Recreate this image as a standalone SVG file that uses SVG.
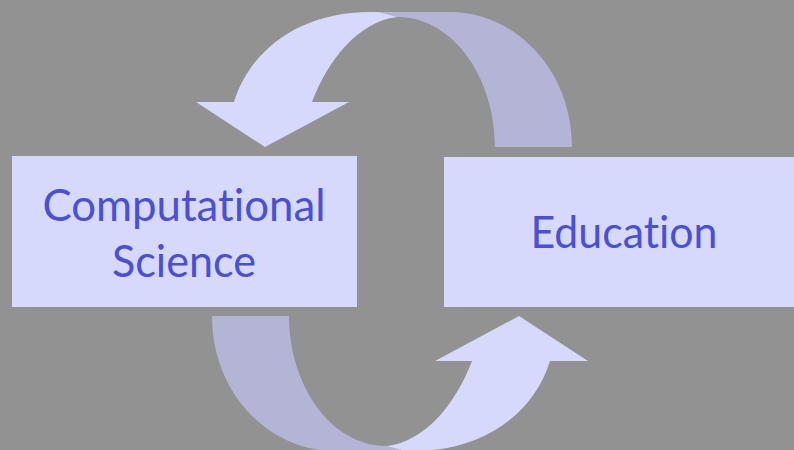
<svg xmlns="http://www.w3.org/2000/svg" width="794" height="450" viewBox="0 0 794 450">
<style>
.box{fill:#d6d8fc}
.lt{fill:#d6d8fc}
.dk{fill:#b3b4d6}
.lbl{font-family:Lato,"Open Sans",sans-serif;font-size:44px;fill:#4a50d6;text-anchor:middle;font-variant-ligatures:none;font-feature-settings:"liga" 0}
</style>
<defs>
<g id="curved">
<path class="dk" d="M572,147 L495,147 C495,80 455,17 397,17 L370,17 L370,12 L450,12 C515,12 572,70 572,147 Z"/>
<path class="lt" d="M196,102 L234,102 C250,50 300,12 370,12 L378,12 L397,17 C358,22 328,60 312,102 L349,102 L265,147 Z"/>
</g>
</defs>
<rect width="794" height="450" fill="#929292"/>
<g id="connectors">
<use href="#curved"/>
<use href="#curved" transform="rotate(180 392 231.5)"/>
</g>
<g id="node-computational-science">
<rect class="box" x="12" y="156" width="345" height="151"/>
<text class="lbl" x="184" y="221" textLength="283" lengthAdjust="spacingAndGlyphs">Computational</text>
<text class="lbl" x="184" y="277" textLength="144" lengthAdjust="spacingAndGlyphs">Science</text>
</g>
<g id="node-education">
<rect class="box" x="444" y="157" width="350" height="150"/>
<text class="lbl" x="624" y="248" textLength="187" lengthAdjust="spacingAndGlyphs">Education</text>
</g>
</svg>
